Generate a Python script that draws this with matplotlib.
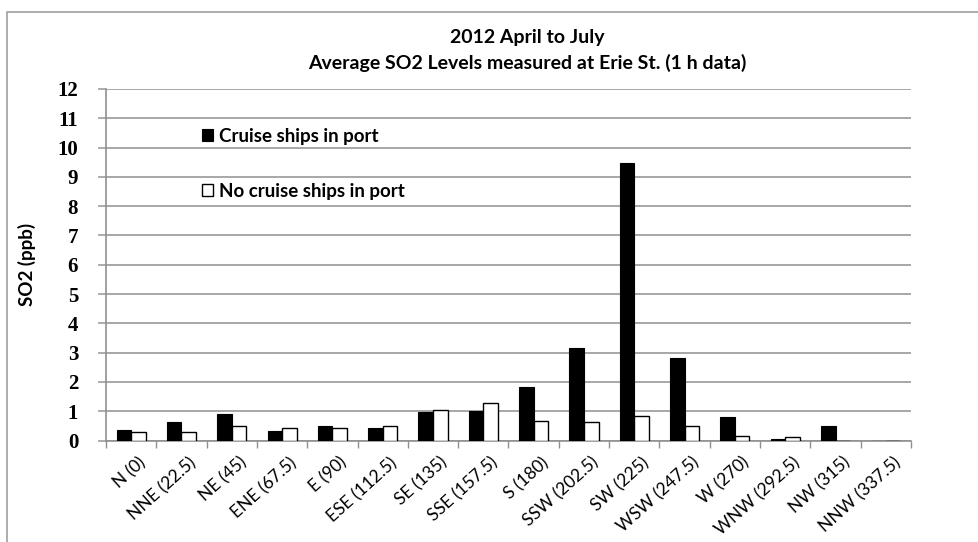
import matplotlib
matplotlib.use("Agg")
import matplotlib.pyplot as plt
import matplotlib.transforms as mtransforms
import numpy as np
from matplotlib.patches import Rectangle

categories = ["N (0)", "NNE (22.5)", "NE (45)", "ENE (67.5)", "E (90)", "ESE (112.5)",
              "SE (135)", "SSE (157.5)", "S (180)", "SSW (202.5)", "SW (225)",
              "WSW (247.5)", "W (270)", "WNW (292.5)", "NW (315)", "NNW (337.5)"]
cruise = [0.37, 0.64, 0.91, 0.34, 0.49, 0.41, 0.96, 1.02, 1.82, 3.16, 9.46,
          2.83, 0.79, 0.06, 0.49, 0.0]
no_cruise = [0.30, 0.30, 0.48, 0.43, 0.43, 0.51, 1.05, 1.29, 0.67, 0.64, 0.83,
             0.48, 0.17, 0.13, 0.0, 0.0]
yticks = list(range(0, 13))

plt.rcParams['font.family'] = ['Lato', 'DejaVu Sans']

fig = plt.figure(figsize=(9.79, 5.42), dpi=100)
fig.patch.set_facecolor('white')
# outer frame
fig.patches.append(Rectangle((7/979, -0.1), 1.2, (542-12)/542 + 0.1,
                             transform=fig.transFigure, fill=False,
                             edgecolor='#a0a0a0', linewidth=1.2))

ax = fig.add_axes([106/979, (542-440.5)/542, (911-106)/979, (440.5-89)/542])
x = np.arange(len(categories))
w = 0.29
ax.bar(x - w/2, cruise, width=w, color='black', edgecolor='black', linewidth=0.8,
       label='Cruise ships in port', zorder=3)
ax.bar(x + w/2, no_cruise, width=w, color='white', edgecolor='black', linewidth=1.0,
       label='No cruise ships in port', zorder=3)

ax.set_xlim(-0.5, len(categories) - 0.5)
ax.set_ylim(0, 12)
ax.set_yticks(yticks)
ax.set_yticklabels([str(t) for t in yticks], fontfamily='Liberation Serif',
                   fontsize=15, fontweight='bold')
ax.yaxis.grid(True, color='#a0a0a0', linewidth=1.3, zorder=0)
ax.set_axisbelow(True)
ax.tick_params(axis='y', length=6, color='#a0a0a0', width=1.2, pad=14)

ax.set_xticks(x)
ax.set_xticklabels(categories, rotation=42, ha='right', va='top',
                   rotation_mode='anchor', fontsize=12.5)
ax.tick_params(axis='x', which='major', length=0, pad=10)
offset = mtransforms.ScaledTranslation(7 / 100, 0, fig.dpi_scale_trans)
for lab in ax.get_xticklabels():
    lab.set_transform(lab.get_transform() + offset)
ax.set_xticks(np.arange(-0.5, len(categories)), minor=True)
ax.tick_params(axis='x', which='minor', length=5, color='#909090', width=1.0)

for s in ['top', 'right']:
    ax.spines[s].set_visible(False)
for s in ['left', 'bottom']:
    ax.spines[s].set_color('#909090')
    ax.spines[s].set_linewidth(1.2)

ax.set_ylabel('SO2 (ppb)', fontsize=13.5, fontweight='bold')
ax.yaxis.set_label_coords(-(106 - 36) / 805, 0.5)

fig.text(527/979, 1 - 38/542, '2012 April to July', ha='center', va='center',
         fontsize=14, fontweight='bold')
fig.text(527/979, 1 - 63/542, 'Average SO2 Levels measured at Erie St. (1 h data)',
         ha='center', va='center', fontsize=14, fontweight='bold')

leg = ax.legend(loc='upper left', bbox_to_anchor=((202 - 106) / 805, (440.5 - 128) / 351.5),
                frameon=False, borderaxespad=0, borderpad=0,
                handlelength=0.6, handleheight=0.6,
                handletextpad=0.3, labelspacing=2.0,
                prop={'weight': 'bold', 'size': 13.5})

fig.savefig('out.png', dpi=100)
